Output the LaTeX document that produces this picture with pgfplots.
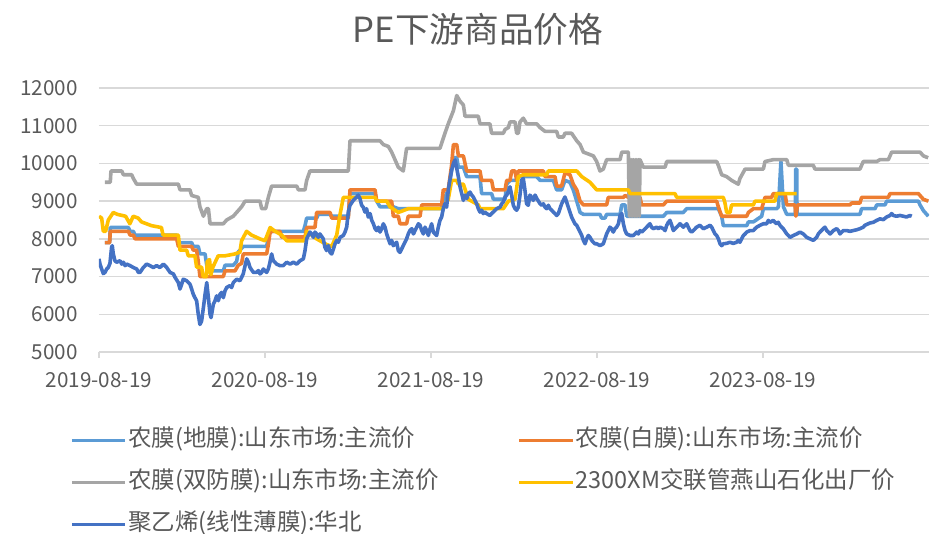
\documentclass[border=0pt]{standalone}
\usepackage{fontspec}
\usepackage{pgfplots}
\pgfplotsset{compat=1.18}
\setmainfont{Noto Sans CJK SC}

\definecolor{c1}{HTML}{5B9BD5}
\definecolor{c2}{HTML}{ED7D31}
\definecolor{c3}{HTML}{A5A5A5}
\definecolor{c4}{HTML}{FFC000}
\definecolor{c5}{HTML}{4472C4}
\definecolor{txt}{HTML}{595959}
\definecolor{gridc}{HTML}{D9D9D9}

\begin{document}
\begin{tikzpicture}[x=1pt,y=1pt]
\path[use as bounding box] (-74.25,-136.5) rectangle (624,264);
\begin{axis}[
    at={(0,0)}, anchor=south west,
    scale only axis,
    width=622.5pt, height=198pt,
    xmin=0, xmax=5, ymin=5000, ymax=12000,
    xtick={0,1,2,3,4},
    xticklabels={2019-08-19,2020-08-19,2021-08-19,2022-08-19,2023-08-19},
    ytick={5000,6000,...,12000},
    scaled y ticks=false,
    /pgf/number format/.cd, set thousands separator={}, assume math mode=true,
    /pgfplots/.cd,
    axis lines*=left,
    y axis line style={draw=none},
    x axis line style={gridc, line width=1pt},
    ytick style={draw=none},
    xtick style={gridc, line width=1pt},
    tick align=outside,
    major tick length=4.5pt,
    ymajorgrids,
    grid style={gridc, line width=1pt},
    ticklabel style={font=\fontsize{15.5}{18}\selectfont, text=txt},
    yticklabel style={xshift=-8pt},
    xticklabel style={yshift=-7pt},
    title={PE下游商品价格},
    title style={at={(0.4566,1)}, anchor=center, yshift=38pt,
        font=\fontsize{26}{30}\selectfont, text=txt},
    every axis plot/.append style={line width=2.7pt, line join=round, no markers},
    legend image code/.code={\draw[#1] (0pt,0pt) -- (40pt,0pt);},
    legend style={at={(-0.0349,-0.293)}, anchor=north west, draw=none, fill=none,
        inner sep=0pt, outer sep=0pt,
        font=\fontsize{17.6}{20}\selectfont, text=txt,
        nodes={inner sep=1pt, text height=12pt, text depth=3pt},
        row sep=14.5pt,
        /tikz/every even column/.append style={column sep=58pt}},
    legend columns=2,
    legend cell align=left,
]
% 农膜(地膜)
\addplot[c1] coordinates {
(0.036,7900)(0.064,7900)(0.068,8300)(0.177,8300)(0.187,8200)(0.207,8200)(0.217,8100)
(0.468,8100)(0.478,7900)(0.558,7900)(0.568,7800)(0.598,7800)(0.608,7600)(0.639,7600)
(0.649,7300)(0.659,7150)(0.749,7150)(0.759,7300)(0.809,7300)(0.829,7400)(0.839,7650)
(0.869,7800)(1.010,7800)(1.020,8050)(1.030,8200)(1.231,8200)(1.241,8350)(1.251,8550)
(1.311,8550)(1.321,8650)(1.392,8650)(1.402,8600)(1.502,8600)(1.512,9200)(1.663,9200)
(1.673,9000)(1.693,8850)(1.773,8850)(1.803,8800)(2.064,8800)(2.074,9000)(2.104,9300)
(2.124,9800)(2.135,10150)(2.155,10150)(2.165,9900)(2.195,9900)(2.215,9650)(2.295,9650)
(2.305,9200)(2.365,9200)(2.376,9050)(2.446,9050)(2.456,9450)(2.476,9550)(2.516,9550)
(2.526,9650)(2.637,9650)(2.657,9550)(2.737,9550)(2.757,9300)(2.787,9300)(2.807,9550)
(2.837,9500)(2.857,9300)(2.878,9000)(2.898,8700)(2.918,8650)(3.018,8650)(3.028,8550)
(3.048,8550)(3.058,8650)(3.139,8650)(3.149,8900)(3.169,8900)(3.179,8600)(3.400,8600)
(3.420,8700)(3.520,8700)(3.540,8800)(3.731,8800)(3.751,8600)(3.761,8350)(3.902,8350)
(3.912,8450)(3.942,8450)(3.992,8600)(4.002,8800)(4.083,8800)(4.093,8850)(4.108,10050)
(4.123,8850)(4.143,8650)(4.195,8650)(4.197,9850)(4.203,9850)(4.205,8650)(4.584,8650)
(4.594,8800)(4.675,8800)(4.685,8900)(4.735,8900)(4.745,9000)(4.936,9000)(4.946,8900)
(4.966,8750)(4.996,8600)
};
\addlegendentry{农膜(地膜):山东市场:主流价}
% 农膜(白膜)
\addplot[c2] coordinates {
(0.036,7900)(0.064,7900)(0.068,8200)(0.177,8200)(0.187,8100)(0.207,8100)(0.217,8000)
(0.468,8000)(0.478,7800)(0.558,7800)(0.568,7700)(0.588,7700)(0.598,7400)(0.608,7000)
(0.749,7000)(0.759,7150)(0.819,7150)(0.839,7300)(0.859,7350)(0.869,7600)(1.010,7600)
(1.020,7850)(1.030,8150)(1.040,8200)(1.090,8200)(1.100,8050)(1.241,8050)(1.251,8300)
(1.301,8300)(1.311,8700)(1.392,8700)(1.402,8550)(1.502,8550)(1.512,9300)(1.663,9300)
(1.673,9000)(1.763,9000)(1.773,8600)(1.803,8600)(1.813,8400)(1.853,8400)(1.863,8600)
(1.934,8600)(1.944,8900)(2.064,8900)(2.074,9300)(2.104,9300)(2.124,9950)(2.135,10500)
(2.155,10500)(2.165,10200)(2.195,10200)(2.215,9800)(2.295,9800)(2.305,9550)(2.365,9550)
(2.376,9300)(2.446,9300)(2.456,9550)(2.476,9550)(2.486,9800)(2.506,9800)(2.516,9550)
(2.526,9800)(2.677,9800)(2.687,9650)(2.747,9650)(2.757,9400)(2.787,9400)(2.807,9750)
(2.837,9700)(2.857,9450)(2.878,9300)(2.898,9000)(2.918,8900)(3.058,8900)(3.068,9100)
(3.159,9100)(3.169,9150)(3.189,9100)(3.259,9100)(3.269,8900)(3.400,8900)(3.420,9000)
(3.721,9000)(3.731,8850)(3.751,8600)(3.902,8600)(3.912,8700)(3.942,8800)(3.992,8800)
(4.002,8950)(4.012,9100)(4.052,9100)(4.062,9200)(4.133,9200)(4.143,8900)(4.193,8900)
(4.198,8600)(4.208,8900)(4.524,8900)(4.534,8950)(4.584,8950)(4.594,9100)(4.755,9100)
(4.765,9200)(4.936,9200)(4.946,9150)(4.966,9050)(4.996,9000)
};
\addlegendentry{农膜(白膜):山东市场:主流价}
% 农膜(双防膜)
\addplot[c3] coordinates {
(0.036,9500)(0.068,9500)(0.072,9800)(0.137,9800)(0.147,9700)(0.197,9700)(0.207,9600)
(0.227,9450)(0.478,9450)(0.488,9300)(0.548,9300)(0.558,9150)(0.598,9100)(0.608,8850)
(0.629,8600)(0.649,8800)(0.659,8800)(0.669,8400)(0.749,8400)(0.769,8500)(0.809,8600)
(0.829,8700)(0.859,8850)(0.880,9000)(0.970,9000)(0.980,8800)(1.004,8800)(1.020,9100)
(1.040,9400)(1.191,9400)(1.201,9300)(1.241,9300)(1.251,9550)(1.271,9800)(1.502,9800)
(1.512,10600)(1.693,10600)(1.713,10500)(1.743,10450)(1.763,10300)(1.783,10100)
(1.803,9900)(1.833,9800)(1.853,10400)(2.054,10400)(2.084,10800)(2.104,11050)
(2.135,11400)(2.155,11800)(2.175,11650)(2.195,11550)(2.205,11250)(2.285,11250)
(2.295,11050)(2.355,11050)(2.365,10800)(2.436,10800)(2.446,10900)(2.466,10950)
(2.476,11100)(2.506,11100)(2.516,10800)(2.526,10800)(2.536,11100)(2.556,11200)
(2.576,11050)(2.637,11050)(2.657,10950)(2.687,10850)(2.757,10850)(2.767,10700)
(2.797,10700)(2.807,10800)(2.847,10800)(2.878,10600)(2.898,10500)(2.918,10300)
(2.978,10200)(2.998,10050)(3.018,9800)(3.038,9850)(3.058,10100)(3.139,10100)
(3.149,10300)(3.189,10300)(3.195,8600)(3.200,10100)(3.205,8600)(3.210,10100)
(3.215,8600)(3.220,10100)(3.225,8600)(3.230,10100)(3.235,8600)(3.240,10100)
(3.245,8600)(3.250,10100)(3.255,8600)(3.259,10100)(3.279,9900)(3.410,9900)
(3.420,10050)(3.721,10050)(3.731,9950)(3.751,9700)(3.781,9650)(3.811,9550)
(3.851,9450)(3.861,9600)(3.892,9850)(4.002,9850)(4.012,10050)(4.062,10100)
(4.143,10100)(4.153,9950)(4.303,9950)(4.313,9850)(4.584,9850)(4.604,10050)
(4.685,10050)(4.705,10100)(4.755,10100)(4.775,10300)(4.946,10300)(4.966,10200)
(4.995,10150)
};
\addlegendentry{农膜(双防膜):山东市场:主流价}
% 2300XM
\addplot[c4] coordinates {
(0.000,8600)(0.016,8550)(0.026,8200)(0.040,8200)(0.056,8500)(0.086,8700)(0.110,8650)
(0.160,8600)(0.186,8400)(0.206,8600)(0.236,8550)(0.256,8450)(0.286,8400)(0.316,8350)
(0.376,8300)(0.386,8100)(0.478,8100)(0.488,7700)(0.528,7700)(0.538,7550)(0.578,7550)
(0.588,7250)(0.618,7250)(0.628,7000)(0.648,7000)(0.652,7400)(0.666,7450)(0.674,7050)
(0.686,7250)(0.718,7550)(0.759,7550)(0.819,7600)(0.849,7650)(0.859,7950)(0.889,8200)
(0.919,8100)(0.969,8000)(1.000,7950)(1.031,8300)(1.061,8200)(1.101,8100)(1.131,7950)
(1.240,7950)(1.251,8200)(1.311,8000)(1.371,7850)(1.402,7800)(1.432,8100)(1.452,8650)
(1.472,9100)(1.663,9100)(1.673,9000)(1.733,9000)(1.753,8850)(1.803,8700)(1.863,8800)
(2.074,8800)(2.104,9050)(2.124,9550)(2.155,9550)(2.165,9450)(2.195,9450)(2.225,9050)
(2.285,8900)(2.295,8800)(2.436,8800)(2.466,9000)(2.506,9050)(2.526,9650)(2.556,9700)
(2.697,9700)(2.707,9800)(2.878,9800)(2.908,9650)(2.958,9500)(2.988,9350)(2.998,9300)
(3.189,9300)(3.199,9200)(3.470,9200)(3.480,9100)(3.761,9100)(3.771,8950)(3.781,8700)
(3.801,8700)(3.811,8900)(3.942,8900)(3.952,9000)(4.072,9000)(4.082,9200)(4.203,9200)
};
\addlegendentry{2300XM交联管燕山石化出厂价}
% 聚乙烯(线性薄膜):华北
\addplot[c5] coordinates {
(0.000,7470)(0.006,7330)(0.016,7200)(0.026,7080)(0.036,7110)(0.046,7200)(0.056,7240)
(0.066,7350)(0.076,7780)(0.080,7820)(0.086,7600)(0.096,7420)(0.106,7380)(0.127,7420)
(0.137,7330)(0.147,7380)(0.157,7290)(0.167,7330)(0.187,7290)(0.207,7240)(0.227,7200)
(0.237,7110)(0.247,7110)(0.267,7240)(0.287,7330)(0.307,7290)(0.327,7240)(0.347,7290)
(0.367,7240)(0.388,7330)(0.408,7240)(0.428,7110)(0.448,7070)(0.458,6980)(0.478,6840)
(0.488,6670)(0.498,6800)(0.508,6930)(0.528,6890)(0.548,6800)(0.558,6670)(0.568,6530)
(0.578,6440)(0.588,6360)(0.598,6000)(0.608,5730)(0.618,5820)(0.629,6180)(0.639,6530)
(0.649,6840)(0.659,6440)(0.669,6000)(0.675,5910)(0.689,6270)(0.699,6360)(0.709,6490)
(0.719,6360)(0.729,6530)(0.739,6580)(0.749,6440)(0.759,6620)(0.769,6710)(0.789,6760)
(0.799,6710)(0.809,6840)(0.829,6930)(0.849,6890)(0.859,6980)(0.869,7070)(0.880,7290)
(0.890,7470)(0.900,7380)(0.910,7240)(0.930,7110)(0.950,7110)(0.960,7160)(0.970,7070)
(0.980,7110)(0.990,7200)(1.010,7110)(1.020,7200)(1.030,7380)(1.040,7600)(1.050,7420)
(1.060,7380)(1.070,7330)(1.090,7290)(1.110,7290)(1.131,7380)(1.151,7330)(1.171,7380)
(1.191,7330)(1.211,7420)(1.231,7470)(1.241,7690)(1.251,8000)(1.261,8090)(1.271,8180)
(1.281,8130)(1.291,8040)(1.301,8180)(1.311,8130)(1.321,8040)(1.331,8130)(1.351,8000)
(1.361,7780)(1.371,7690)(1.382,7820)(1.392,7640)(1.402,7600)(1.412,7730)(1.422,7870)
(1.432,7960)(1.442,7910)(1.452,8040)(1.472,8090)(1.482,8180)(1.492,8310)(1.502,8710)
(1.512,8890)(1.532,9020)(1.552,9110)(1.562,9160)(1.572,9070)(1.582,8890)(1.592,8840)
(1.602,8710)(1.612,8800)(1.622,8580)(1.633,8670)(1.643,8490)(1.653,8400)(1.663,8270)
(1.673,8220)(1.683,8310)(1.693,8180)(1.703,8270)(1.713,8400)(1.723,8310)(1.733,8130)
(1.743,8000)(1.753,7870)(1.763,7960)(1.773,7820)(1.793,7910)(1.803,7690)(1.813,7640)
(1.823,7730)(1.833,7820)(1.843,7910)(1.853,8000)(1.863,8130)(1.873,8220)(1.884,8270)
(1.894,8130)(1.904,8220)(1.914,8310)(1.924,8400)(1.934,8360)(1.944,8220)(1.954,8130)
(1.964,8310)(1.974,8220)(1.984,8090)(1.994,8270)(2.004,8400)(2.014,8180)(2.024,8130)
(2.034,8090)(2.044,8310)(2.054,8490)(2.064,8580)(2.074,8800)(2.084,8930)(2.094,8840)
(2.104,9290)(2.114,9560)(2.124,9820)(2.135,10000)(2.145,10090)(2.155,9870)(2.165,9640)
(2.175,9380)(2.185,9200)(2.195,9020)(2.205,9160)(2.215,9070)(2.225,9200)(2.235,9240)
(2.245,9160)(2.255,9110)(2.265,9020)(2.275,8930)(2.285,8800)(2.295,8710)(2.305,8760)
(2.315,8670)(2.325,8710)(2.335,8670)(2.355,8620)(2.365,8670)(2.375,8710)(2.386,8760)
(2.396,8800)(2.416,8840)(2.426,8930)(2.436,8980)(2.446,9110)(2.456,9160)(2.466,9240)
(2.476,9380)(2.486,9160)(2.496,8890)(2.506,8800)(2.516,8760)(2.526,8840)(2.536,9160)
(2.546,9560)(2.556,9600)(2.566,9290)(2.576,8930)(2.586,8890)(2.596,9160)(2.606,9110)
(2.616,9020)(2.627,9160)(2.637,9070)(2.657,8930)(2.667,8890)(2.677,8930)(2.687,8840)
(2.697,8800)(2.707,8890)(2.717,8800)(2.727,8760)(2.737,8710)(2.747,8670)(2.757,8620)
(2.767,8670)(2.777,8800)(2.787,8930)(2.797,9020)(2.807,9110)(2.817,8980)(2.827,8840)
(2.837,8710)(2.847,8580)(2.857,8490)(2.867,8400)(2.878,8360)(2.888,8270)(2.898,8180)
(2.908,8090)(2.918,7960)(2.928,7870)(2.938,8000)(2.948,8090)(2.958,8040)(2.968,7960)
(2.978,7910)(2.988,7870)(2.998,7870)(3.018,7820)(3.038,7870)(3.048,8000)(3.058,8130)
(3.068,8220)(3.078,8310)(3.088,8270)(3.098,8180)(3.108,8270)(3.118,8310)(3.129,8400)
(3.139,8620)(3.149,8670)(3.159,8400)(3.169,8220)(3.179,8130)(3.199,8090)(3.219,8090)
(3.229,8130)(3.239,8180)(3.249,8130)(3.259,8220)(3.269,8180)(3.279,8220)(3.299,8310)
(3.319,8400)(3.329,8310)(3.339,8270)(3.359,8310)(3.369,8270)(3.380,8310)(3.400,8270)
(3.410,8220)(3.420,8360)(3.430,8440)(3.440,8490)(3.450,8360)(3.460,8220)(3.470,8270)
(3.480,8310)(3.500,8400)(3.520,8310)(3.530,8360)(3.540,8400)(3.550,8310)(3.560,8220)
(3.570,8180)(3.580,8220)(3.600,8310)(3.620,8360)(3.631,8310)(3.641,8270)(3.661,8310)
(3.681,8360)(3.691,8310)(3.701,8220)(3.711,8130)(3.721,8090)(3.731,8000)(3.741,7870)
(3.751,7820)(3.761,7870)(3.781,7880)(3.801,7910)(3.821,7880)(3.841,7910)(3.851,7960)
(3.861,7910)(3.871,8000)(3.882,8090)(3.892,8130)(3.902,8180)(3.922,8220)(3.942,8220)
(3.952,8270)(3.962,8310)(3.982,8360)(4.002,8400)(4.022,8400)(4.032,8490)(4.042,8440)
(4.062,8490)(4.072,8440)(4.082,8400)(4.092,8440)(4.102,8360)(4.112,8310)(4.122,8270)
(4.143,8130)(4.153,8090)(4.163,8040)(4.183,8090)(4.203,8130)(4.223,8180)(4.243,8130)
(4.263,8040)(4.283,8000)(4.303,7960)(4.313,8000)(4.323,8040)(4.333,8130)(4.343,8180)
(4.363,8270)(4.373,8310)(4.384,8220)(4.394,8180)(4.404,8130)(4.424,8220)(4.444,8270)
(4.454,8220)(4.464,8130)(4.474,8180)(4.484,8220)(4.504,8220)(4.524,8200)(4.544,8220)
(4.564,8240)(4.584,8270)(4.604,8310)(4.614,8360)(4.624,8380)(4.644,8420)(4.665,8440)
(4.685,8490)(4.705,8530)(4.725,8510)(4.745,8580)(4.765,8620)(4.775,8670)(4.785,8620)
(4.805,8600)(4.825,8620)(4.845,8600)(4.865,8580)(4.885,8620)(4.896,8600)
};
\addlegendentry{聚乙烯(线性薄膜):华北}
\end{axis}
\end{tikzpicture}
\end{document}
